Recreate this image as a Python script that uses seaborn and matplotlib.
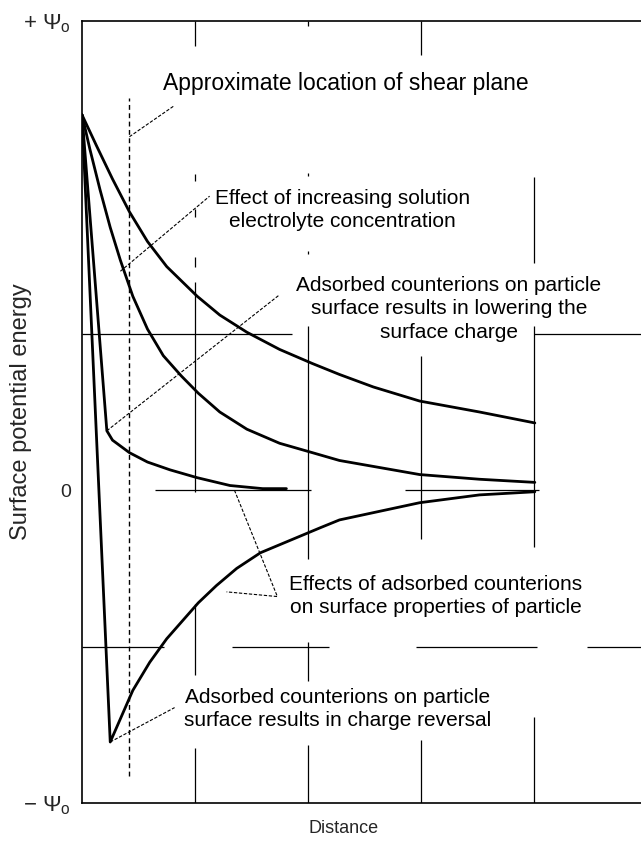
import numpy as np
import pandas as pd
import matplotlib
matplotlib.use("Agg")
import matplotlib.pyplot as plt
import seaborn as sns

# ── Curve data (distance in grid units, potential in grid units) ─────────────
# top curve: dilute solution, slow decay
dist_a = [0.00, 0.13, 0.27, 0.42, 0.58, 0.75, 1.02, 1.22, 1.46, 1.75, 2.04,
          2.28, 2.58, 2.99, 3.52, 4.01]
pot_a = [2.40, 2.20, 1.99, 1.78, 1.59, 1.43, 1.24, 1.12, 1.01, 0.90, 0.81,
         0.74, 0.66, 0.57, 0.50, 0.43]

# middle curve: higher electrolyte concentration
dist_b = [0.00, 0.07, 0.16, 0.25, 0.34, 0.45, 0.58, 0.72, 0.88, 1.03, 1.22,
          1.46, 1.75, 2.04, 2.28, 2.99, 3.52, 4.01]
pot_b = [2.40, 2.18, 1.92, 1.68, 1.47, 1.24, 1.03, 0.86, 0.73, 0.62, 0.50,
         0.39, 0.30, 0.24, 0.19, 0.10, 0.07, 0.05]

# adsorbed counterions lowering the surface charge
dist_c = [0.00, 0.22, 0.27, 0.42, 0.58, 0.78, 1.02, 1.31, 1.60, 1.81]
pot_c = [2.40, 0.38, 0.32, 0.24, 0.18, 0.13, 0.08, 0.03, 0.01, 0.01]

# adsorbed counterions causing charge reversal
dist_d = [0.00, 0.25, 0.45, 0.60, 0.75, 1.03, 1.19, 1.37, 1.58, 2.11, 2.28,
          2.99, 3.52, 4.01]
pot_d = [2.40, -1.61, -1.28, -1.10, -0.95, -0.72, -0.61, -0.50, -0.40, -0.24,
         -0.19, -0.08, -0.03, -0.01]

curves = {"a": (dist_a, pot_a), "b": (dist_b, pot_b),
          "c": (dist_c, pot_c), "d": (dist_d, pot_d)}

ytick_vals = [3.0, 0.0, -2.0]
ytick_labels = [r"$+\ \Psi_{\rm o}$", "0", r"$-\ \Psi_{\rm o}$"]

# ── Style ────────────────────────────────────────────────────────────────────
sns.set_theme(style="white")
plt.rcParams["font.family"] = ["Liberation Sans", "DejaVu Sans"]
plt.rcParams["mathtext.fontset"] = "custom"
plt.rcParams["mathtext.rm"] = "Liberation Sans"
plt.rcParams["mathtext.it"] = "Liberation Sans:italic"

W, H = 641, 841
fig = plt.figure(figsize=(W / 100, H / 100), dpi=100)
ax = fig.add_axes([82 / W, (H - 803) / H, (W - 82) / W, (803 - 21) / H])
ax.set_xlim(0, 4.95)
ax.set_ylim(-2.0, 3.0)

# broken grid, as in the scanned original
vsegs = [
    (1, [(2.84, 3.0), (1.98, 2.02), (1.75, 1.80), (1.43, 1.49),
         (-0.01, 1.33), (-1.18, -0.73), (-2.0, -1.65)]),
    (2, [(2.97, 3.0), (2.01, 2.03), (1.51, 1.53), (-0.44, 1.05),
         (-1.22, -0.97), (-2.0, -1.63)]),
    (3, [(2.78, 3.0), (-0.31, 0.86), (-2.0, -1.60)]),
    (4, [(1.45, 2.0), (-0.36, 1.05), (-2.0, -1.45)]),
]
for xv, spans in vsegs:
    for lo, hi in spans:
        ax.vlines(xv, lo, hi, color="black", lw=0.9, zorder=1)
hsegs = [
    (1, [(0.0, 1.86), (4.0, 4.95)]),
    (0, [(0.65, 2.03), (2.86, 4.05)]),
    (-1, [(0.0, 0.73), (1.33, 2.19), (2.96, 4.03), (4.47, 4.95)]),
]
for yv, spans in hsegs:
    for lo, hi in spans:
        ax.hlines(yv, lo, hi, color="black", lw=0.9, zorder=1)

# shear plane
ax.vlines(0.42, -1.83, 2.51, color="black", lw=1.0,
          linestyles=[(0, (3.5, 2.5))], zorder=2)

# potential curves
for key, (xs, ys) in curves.items():
    df = pd.DataFrame({"x": xs, "y": ys})
    sns.lineplot(data=df, x="x", y="y", sort=False, estimator=None,
                 color="black", lw=2.0, ax=ax, zorder=4)

# leader lines
leader_kw = dict(color="black", lw=0.8, ls=(0, (3, 1.5)), zorder=2)
ax.plot([0.42, 0.82], [2.26, 2.46], **leader_kw)
ax.plot([0.34, 1.13], [1.40, 1.88], **leader_kw)
ax.plot([0.22, 1.75], [0.38, 1.25], **leader_kw)
ax.plot([1.35, 1.73, 1.28], [0.0, -0.68, -0.65], **leader_kw)
ax.plot([0.25, 0.82], [-1.61, -1.39], **leader_kw)

# annotations
fs = 15
txt_kw = dict(color="black", linespacing=1.3, zorder=3)
ax.text(0.72, 2.60, "Approximate location of shear plane",
        ha="left", va="center", fontsize=16.5, **txt_kw)
ax.text(2.31, 1.79, "Effect of increasing solution\nelectrolyte concentration",
        ha="center", va="center", multialignment="center", fontsize=fs, **txt_kw)
ax.text(3.25, 1.16, "Adsorbed counterions on particle\nsurface results in lowering the\nsurface charge",
        ha="center", va="center", multialignment="center", fontsize=fs, **txt_kw)
ax.text(3.13, -0.675, "Effects of adsorbed counterions\non surface properties of particle",
        ha="center", va="center", multialignment="center", fontsize=fs, **txt_kw)
ax.text(2.26, -1.40, "Adsorbed counterions on particle\nsurface results in charge reversal",
        ha="center", va="center", multialignment="center", fontsize=fs, **txt_kw)

# axes
ax.set_xticks([])
ax.set_yticks(ytick_vals)
ax.set_yticklabels(ytick_labels, fontsize=16)
ax.get_yticklabels()[1].set_fontsize(14)
ax.tick_params(axis="y", length=0, pad=8)
ax.set_xlabel("Distance", fontsize=13)
ax.xaxis.set_label_coords((344 - 82) / (W - 82), -0.022)
ax.set_ylabel("Surface potential energy", fontsize=17)
ax.yaxis.set_label_coords(-(82 - 32) / (W - 82), 0.5)
for side in ["left", "top", "bottom"]:
    ax.spines[side].set_color("black")
    ax.spines[side].set_linewidth(1.2)
ax.spines["right"].set_visible(False)

fig.savefig("out.png", dpi=100)
